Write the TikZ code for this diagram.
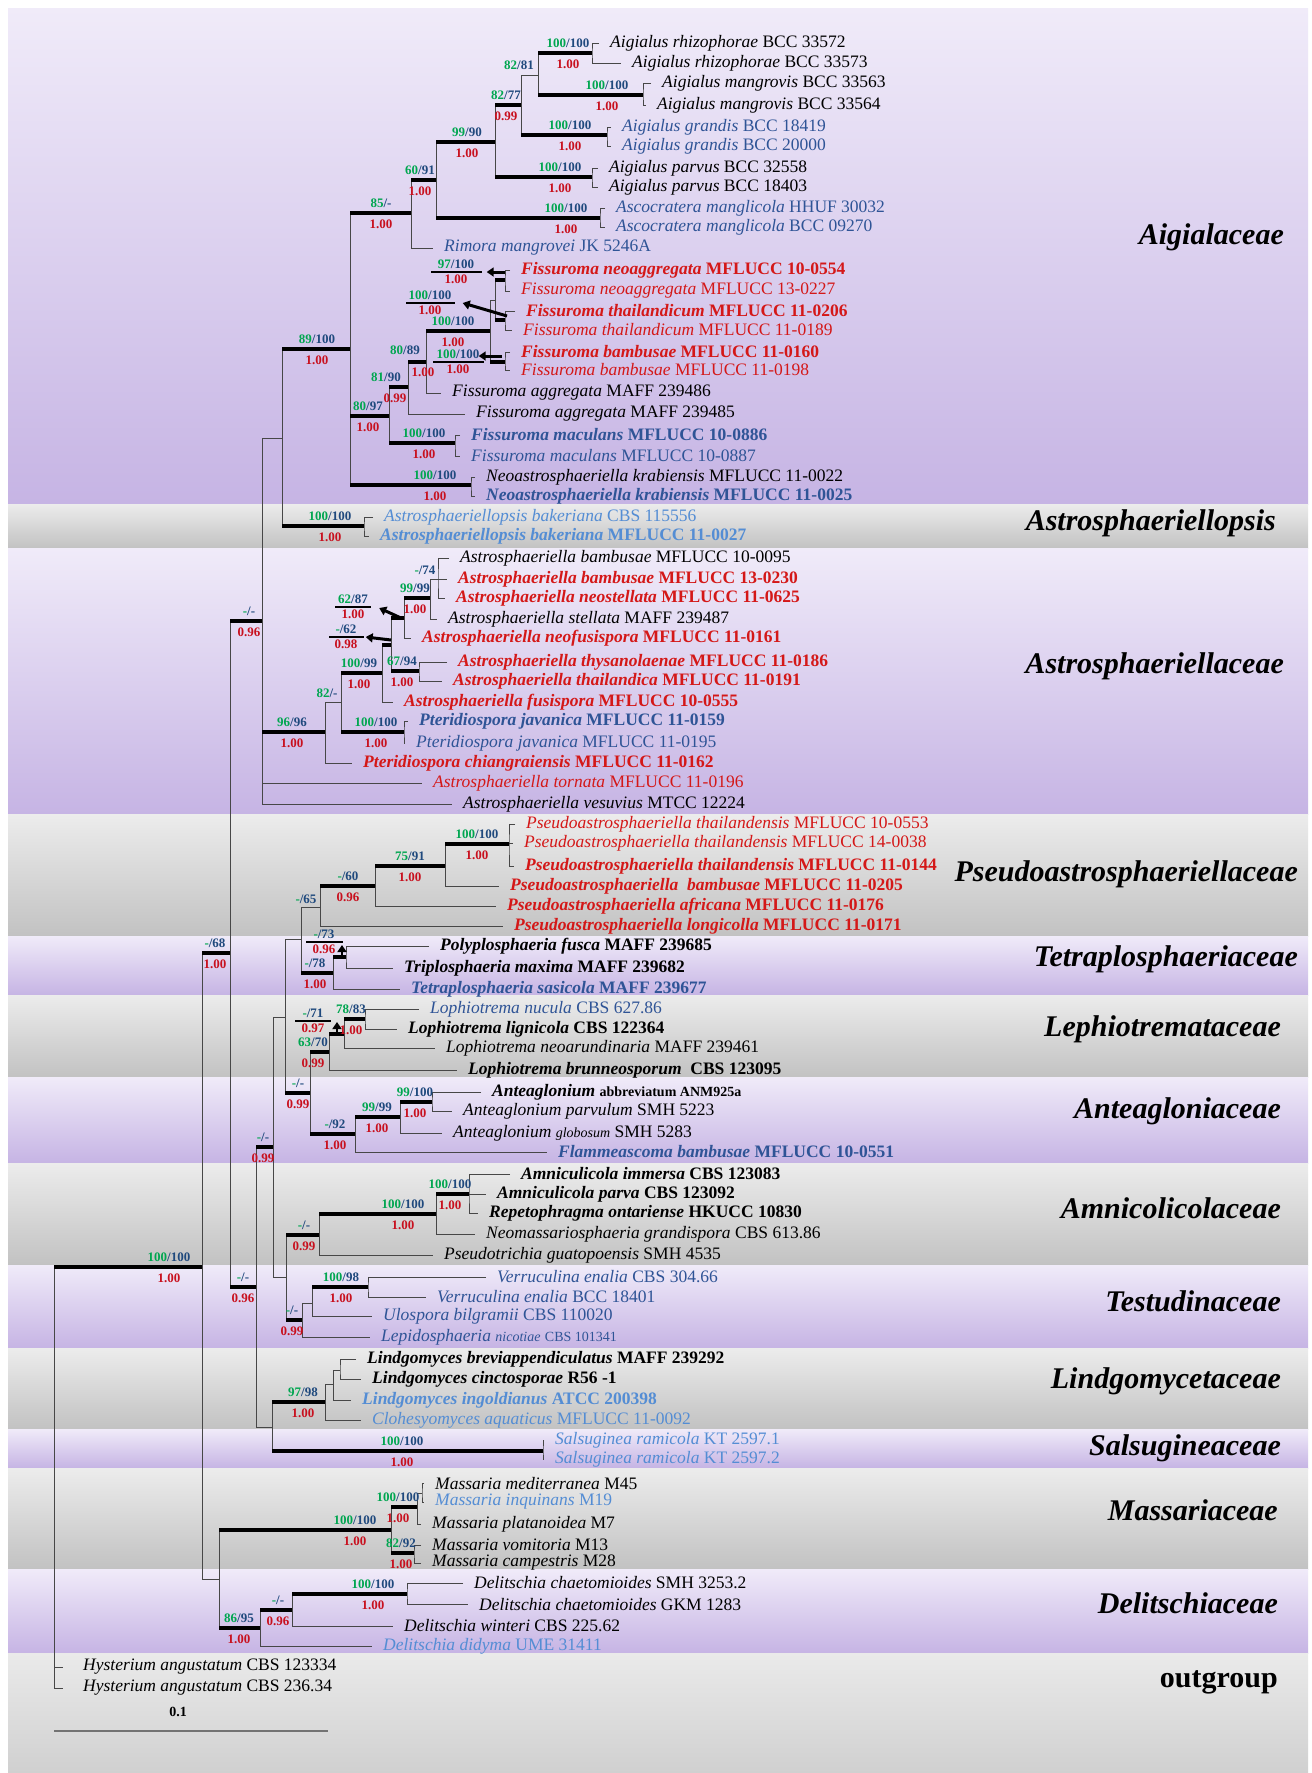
\documentclass[tikz,border=0pt]{standalone}
\usepackage{fontspec}
\setmainfont{Liberation Serif}
\usetikzlibrary{arrows.meta,positioning}
\definecolor{mlgreen}{RGB}{0,166,80}
\definecolor{mpblue}{RGB}{31,73,125}
\definecolor{ppred}{RGB}{200,16,30}
\definecolor{txred}{RGB}{212,24,24}
\definecolor{txblue}{RGB}{47,84,150}
\definecolor{txlblue}{RGB}{84,141,212}
\definecolor{bandpa}{RGB}{240,235,249}
\definecolor{bandpb}{RGB}{198,180,228}
\definecolor{bandga}{RGB}{236,236,236}
\definecolor{bandgb}{RGB}{194,194,194}
\definecolor{bandoa}{RGB}{234,234,234}
\definecolor{bandob}{RGB}{208,208,208}
\newcommand{\taxon}[2]{\textit{#1} #2}
\newcommand{\taxonb}[2]{\textbf{\textit{#1} #2}}
\newcommand{\suplab}[6]{%
  \node[sv] (#1u) at (#2,#3-10) {\textcolor{mlgreen}{#4}\textcolor{mpblue}{/#5}};
  \node[pv] (#1d) at (#2,#3+11) {#6};}

\begin{document}
\begin{tikzpicture}[x=1pt,y=-1pt,
  br/.style={draw=black!72,line width=0.9pt},
  bb/.style={draw=black,line width=4.6pt},
  tipl/.style={shorten <=11pt,shorten >=11pt},
  tipe/.style={shorten >=11pt},
  tx/.style={anchor=west,inner xsep=0pt,inner ysep=1pt,font=\fontsize{17.5}{19}\selectfont},
  sv/.style={inner sep=0pt,font=\fontsize{13}{14}\selectfont\bfseries},
  pv/.style={inner sep=0pt,text=ppred,font=\fontsize{13}{14}\selectfont\bfseries},
  fam/.style={anchor=east,inner sep=0pt,font=\fontsize{30}{32}\selectfont\bfseries\itshape},
  cbar/.style={fill=black,inner sep=0pt,minimum height=1.4pt},
  arr/.style={draw=black,line width=3pt,-{Triangle[length=7pt,width=9pt]}}]
\useasboundingbox (0,0) rectangle (1312,1773);
\fill[white] (0,0) rectangle (1312,1773);
% family bands
\shade[top color=bandpa,bottom color=bandpb] (8,8) rectangle (1308,504);
\shade[top color=bandga,bottom color=bandgb] (8,504) rectangle (1308,548);
\shade[top color=bandpa,bottom color=bandpb] (8,548) rectangle (1308,814);
\shade[top color=bandga,bottom color=bandgb] (8,814) rectangle (1308,936);
\shade[top color=bandpa,bottom color=bandpb] (8,936) rectangle (1308,995);
\shade[top color=bandga,bottom color=bandgb] (8,995) rectangle (1308,1077);
\shade[top color=bandpa,bottom color=bandpb] (8,1077) rectangle (1308,1163);
\shade[top color=bandga,bottom color=bandgb] (8,1163) rectangle (1308,1265);
\shade[top color=bandpa,bottom color=bandpb] (8,1265) rectangle (1308,1348);
\shade[top color=bandga,bottom color=bandgb] (8,1348) rectangle (1308,1429);
\shade[top color=bandpa,bottom color=bandpb] (8,1429) rectangle (1308,1468);
\shade[top color=bandga,bottom color=bandgb] (8,1468) rectangle (1308,1569);
\shade[top color=bandpa,bottom color=bandpb] (8,1569) rectangle (1308,1653);
\shade[top color=bandoa,bottom color=bandob] (8,1653) rectangle (1308,1773);

% internal nodes
\coordinate (root) at (54,1478);
\coordinate (ing) at (202,1267);
\coordinate (nMD) at (219,1579);
\coordinate (nMas) at (391,1530);
\coordinate (nMas1) at (417,1507);
\coordinate (nMas0) at (422,1493);
\coordinate (nMas2) at (414,1553);
\coordinate (nDel) at (260,1628);
\coordinate (nDel2) at (292,1610);
\coordinate (nDel3) at (407,1594);
\coordinate (n68) at (230,953);
\coordinate (n096) at (262,621);
\coordinate (nAA) at (282,438);
\coordinate (nAps) at (364,526);
\coordinate (nAig) at (350,349);
\coordinate (nNeo) at (471,485);
\coordinate (n85) at (411,213);
\coordinate (n6091) at (436,180);
\coordinate (nAsc) at (600,218);
\coordinate (n9990) at (495,142);
\coordinate (nPar) at (592,177);
\coordinate (n8277) at (521,105);
\coordinate (nGra) at (607,135);
\coordinate (n8281) at (538,75);
\coordinate (nRhi) at (592,53);
\coordinate (nMan) at (643,95);
\coordinate (n8097) at (389,416);
\coordinate (nMac) at (455,443);
\coordinate (n8190) at (408,387);
\coordinate (n8089) at (426,362);
\coordinate (nFis) at (490,331);
\coordinate (nFG) at (495,300);
\coordinate (nNag) at (505,280);
\coordinate (nTha) at (505,320);
\coordinate (nBam) at (505,362);
\coordinate (n9696) at (325,732);
\coordinate (n82) at (341,702);
\coordinate (nJav) at (404,732);
\coordinate (n10099) at (382,673);
\coordinate (n62) at (391,645);
\coordinate (n6794) at (419,671);
\coordinate (n6287) at (404,618);
\coordinate (n9999) at (430,598);
\coordinate (n74) at (438,579);
\coordinate (n096b) at (256,1287);
\coordinate (n99b) at (273,1147);
\coordinate (n285) at (285,1017);
\coordinate (n65) at (301,939);
\coordinate (nPs) at (320,907);
\coordinate (n60) at (375,886);
\coordinate (n7591) at (445,866);
\coordinate (nPth) at (509,844);
\coordinate (nTe) at (333,973);
\coordinate (nT73) at (346,957);
\coordinate (nLA) at (310,1093);
\coordinate (n6370) at (329,1052);
\coordinate (n71) at (344,1034);
\coordinate (n7883) at (365,1019);
\coordinate (n92) at (355,1134);
\coordinate (n9999b) at (400,1117);
\coordinate (n99100) at (432,1102);
\coordinate (n286) at (286,1277);
\coordinate (nAm) at (319,1235);
\coordinate (nAm2) at (436,1214);
\coordinate (nAm3) at (469,1194);
\coordinate (nTs) at (302,1320);
\coordinate (nTs2) at (312,1303);
\coordinate (nVer) at (368,1287);
\coordinate (n272) at (272,1427);
\coordinate (nLi) at (325,1402);
\coordinate (nLi2) at (333,1384);
\coordinate (nLi3) at (340,1370);
\coordinate (nSa) at (543,1451);

% taxa
\node[tx] (t1) at (610,43) {\taxon{Aigialus rhizophorae}{BCC 33572}};
\node[tx] (t2) at (632,63) {\taxon{Aigialus rhizophorae}{BCC 33573}};
\node[tx] (t3) at (662,83) {\taxon{Aigialus mangrovis}{BCC 33563}};
\node[tx] (t4) at (657,105) {\taxon{Aigialus mangrovis}{BCC 33564}};
\node[tx,text=txblue] (t5) at (622,127) {\taxon{Aigialus grandis}{BCC 18419}};
\node[tx,text=txblue] (t6) at (622,146) {\taxon{Aigialus grandis}{BCC 20000}};
\node[tx] (t7) at (609,168) {\taxon{Aigialus parvus}{BCC 32558}};
\node[tx] (t8) at (609,187) {\taxon{Aigialus parvus}{BCC 18403}};
\node[tx,text=txblue] (t9) at (616,208) {\taxon{Ascocratera manglicola}{HHUF 30032}};
\node[tx,text=txblue] (t10) at (616,227) {\taxon{Ascocratera manglicola}{BCC 09270}};
\node[tx,text=txblue] (t11) at (444,248) {\taxon{Rimora mangrovei}{JK 5246A}};
\node[tx,text=txred] (t12) at (521,270) {\taxonb{Fissuroma neoaggregata}{MFLUCC 10-0554}};
\node[tx,text=txred] (t13) at (521,291) {\taxon{Fissuroma neoaggregata}{MFLUCC 13-0227}};
\node[tx,text=txred] (t14) at (526,311) {\taxonb{Fissuroma thailandicum}{MFLUCC 11-0206}};
\node[tx,text=txred] (t15) at (523,330) {\taxon{Fissuroma thailandicum}{MFLUCC 11-0189}};
\node[tx,text=txred] (t16) at (521,352) {\taxonb{Fissuroma bambusae}{MFLUCC 11-0160}};
\node[tx,text=txred] (t17) at (521,370) {\taxon{Fissuroma bambusae}{MFLUCC 11-0198}};
\node[tx] (t18) at (452,393) {\taxon{Fissuroma aggregata}{MAFF 239486}};
\node[tx] (t19) at (476,414) {\taxon{Fissuroma aggregata}{MAFF 239485}};
\node[tx,text=txblue] (t20) at (471,435) {\taxonb{Fissuroma maculans}{MFLUCC 10-0886}};
\node[tx,text=txblue] (t21) at (471,456) {\taxon{Fissuroma maculans}{MFLUCC 10-0887}};
\node[tx] (t22) at (486,477) {\taxon{Neoastrosphaeriella krabiensis}{MFLUCC 11-0022}};
\node[tx,text=txblue] (t23) at (486,496) {\taxonb{Neoastrosphaeriella krabiensis}{MFLUCC 11-0025}};
\node[tx,text=txlblue] (t24) at (384,517) {\taxon{Astrosphaeriellopsis bakeriana}{CBS 115556}};
\node[tx,text=txlblue] (t25) at (380,536) {\taxonb{Astrosphaeriellopsis bakeriana}{MFLUCC 11-0027}};
\node[tx] (t26) at (460,558) {\taxon{Astrosphaeriella bambusae}{MFLUCC 10-0095}};
\node[tx,text=txred] (t27) at (458,579) {\taxonb{Astrosphaeriella bambusae}{MFLUCC 13-0230}};
\node[tx,text=txred] (t28) at (456,598) {\taxonb{Astrosphaeriella neostellata}{MFLUCC 11-0625}};
\node[tx] (t29) at (448,619) {\taxon{Astrosphaeriella stellata}{MAFF 239487}};
\node[tx,text=txred] (t30) at (422,638) {\taxonb{Astrosphaeriella neofusispora}{MFLUCC 11-0161}};
\node[tx,text=txred] (t31) at (458,662) {\taxonb{Astrosphaeriella thysanolaenae}{MFLUCC 11-0186}};
\node[tx,text=txred] (t32) at (453,681) {\taxonb{Astrosphaeriella thailandica}{MFLUCC 11-0191}};
\node[tx,text=txred] (t33) at (404,702) {\taxonb{Astrosphaeriella fusispora}{MFLUCC 10-0555}};
\node[tx,text=txblue] (t34) at (419,721) {\taxonb{Pteridiospora javanica}{MFLUCC 11-0159}};
\node[tx,text=txblue] (t35) at (416,743) {\taxon{Pteridiospora javanica}{MFLUCC 11-0195}};
\node[tx,text=txred] (t36) at (363,763) {\taxonb{Pteridiospora chiangraiensis}{MFLUCC 11-0162}};
\node[tx,text=txred] (t37) at (433,783) {\taxon{Astrosphaeriella tornata}{MFLUCC 11-0196}};
\node[tx] (t38) at (463,804) {\taxon{Astrosphaeriella vesuvius}{MTCC 12224}};
\node[tx,text=txred] (t39) at (526,824) {\taxon{Pseudoastrosphaeriella thailandensis}{MFLUCC 10-0553}};
\node[tx,text=txred] (t40) at (524,843) {\taxon{Pseudoastrosphaeriella thailandensis}{MFLUCC 14-0038}};
\node[tx,text=txred] (t41) at (525,866) {\taxonb{Pseudoastrosphaeriella thailandensis}{MFLUCC 11-0144}};
\node[tx,text=txred] (t42) at (510,886) {\taxonb{Pseudoastrosphaeriella\ \ bambusae}{MFLUCC 11-0205}};
\node[tx,text=txred] (t43) at (507,906) {\taxonb{Pseudoastrosphaeriella africana}{MFLUCC 11-0176}};
\node[tx,text=txred] (t44) at (514,926) {\taxonb{Pseudoastrosphaeriella longicolla}{MFLUCC 11-0171}};
\node[tx] (t45) at (440,946) {\taxonb{Polyplosphaeria fusca}{MAFF 239685}};
\node[tx] (t46) at (404,968) {\taxonb{Triplosphaeria maxima}{MAFF 239682}};
\node[tx,text=txblue] (t47) at (411,989) {\taxonb{Tetraplosphaeria sasicola}{MAFF 239677}};
\node[tx,text=txblue] (t48) at (430,1009) {\taxon{Lophiotrema nucula}{CBS 627.86}};
\node[tx] (t49) at (408,1029) {\taxonb{Lophiotrema lignicola}{CBS 122364}};
\node[tx] (t50) at (446,1048) {\taxon{Lophiotrema neoarundinaria}{MAFF 239461}};
\node[tx] (t51) at (468,1070) {\taxonb{Lophiotrema brunneosporum\ }{CBS 123095}};
\node[tx] (t52) at (492,1092) {\textbf{\textit{Anteaglonium}} {\fontsize{14}{15}\selectfont\bfseries abbreviatum ANM925a}};
\node[tx] (t53) at (463,1111) {\taxon{Anteaglonium parvulum}{SMH 5223}};
\node[tx] (t54) at (453,1133) {\textit{Anteaglonium} {\fontsize{14}{15}\selectfont\itshape globosum} SMH 5283};
\node[tx,text=txblue] (t55) at (558,1152) {\taxonb{Flammeascoma bambusae}{MFLUCC 10-0551}};
\node[tx] (t56) at (521,1174) {\taxonb{Amniculicola immersa}{CBS 123083}};
\node[tx] (t57) at (497,1194) {\taxonb{Amniculicola parva}{CBS 123092}};
\node[tx] (t58) at (489,1213) {\taxonb{Repetophragma ontariense}{HKUCC 10830}};
\node[tx] (t59) at (486,1234) {\taxon{Neomassariosphaeria grandispora}{CBS 613.86}};
\node[tx] (t60) at (444,1255) {\taxon{Pseudotrichia guatopoensis}{SMH 4535}};
\node[tx,text=txblue] (t61) at (497,1277) {\taxon{Verruculina enalia}{CBS 304.66}};
\node[tx,text=txblue] (t62) at (437,1297) {\taxon{Verruculina enalia}{BCC 18401}};
\node[tx,text=txblue] (t63) at (383,1316) {\taxon{Ulospora bilgramii}{CBS 110020}};
\node[tx,text=txblue] (t64) at (381,1337) {\textit{Lepidosphaeria} {\fontsize{14}{15}\selectfont\itshape nicotiae} {\fontsize{14}{15}\selectfont CBS 101341}};
\node[tx] (t65) at (367,1359) {\taxonb{Lindgomyces breviappendiculatus}{MAFF 239292}};
\node[tx] (t66) at (372,1379) {\taxonb{Lindgomyces cinctosporae}{R56 -1}};
\node[tx,text=txlblue] (t67) at (362,1400) {\taxonb{Lindgomyces ingoldianus}{ATCC 200398}};
\node[tx,text=txlblue] (t68) at (372,1420) {\taxon{Clohesyomyces aquaticus}{MFLUCC 11-0092}};
\node[tx,text=txlblue] (t69) at (555,1440) {\taxon{Salsuginea ramicola}{KT 2597.1}};
\node[tx,text=txlblue] (t70) at (555,1459) {\taxon{Salsuginea ramicola}{KT 2597.2}};
\node[tx] (t71) at (435,1483) {\taxon{Massaria mediterranea}{M45}};
\node[tx,text=txlblue] (t72) at (435,1502) {\taxon{Massaria inquinans}{M19}};
\node[tx] (t73) at (432,1524) {\taxon{Massaria platanoidea}{M7}};
\node[tx] (t74) at (432,1545) {\taxon{Massaria vomitoria}{M13}};
\node[tx] (t75) at (432,1563) {\taxon{Massaria campestris}{M28}};
\node[tx] (t76) at (474,1583) {\taxon{Delitschia chaetomioides}{SMH 3253.2}};
\node[tx] (t77) at (479,1604) {\taxon{Delitschia chaetomioides}{GKM 1283}};
\node[tx] (t78) at (404,1626) {\taxon{Delitschia winteri}{CBS 225.62}};
\node[tx,text=txlblue] (t79) at (383,1646) {\taxon{Delitschia didyma}{UME 31411}};
\node[tx] (t80) at (83,1667) {\taxon{Hysterium angustatum}{CBS 123334}};
\node[tx] (t81) at (83,1688) {\taxon{Hysterium angustatum}{CBS 236.34}};

% branches
\draw[br] (root |- ing) -- (root |- t81.west);
\draw[bb] (root |- ing) -- (ing);
\draw[br,shorten >=20pt] (root |- t80.west) -- (t80.west);
\draw[br,shorten >=20pt] (root |- t81.west) -- (t81.west);
\draw[br] (ing |- n68) -- (ing |- nMD);
\draw[bb] (ing |- n68) -- (n68);
\draw[br] (ing |- nMD) -- (nMD);
\draw[br] (nMD |- nMas) -- (nMD |- nDel);
\draw[bb] (nMD |- nMas) -- (nMas);
\draw[bb] (nMD |- nDel) -- (nDel);
\draw[br] (nMas |- nMas1) -- (nMas |- nMas2);
\draw[bb] (nMas |- nMas1) -- (nMas1);
\draw[bb] (nMas |- nMas2) -- (nMas2);
\draw[br,tipe] (nMas1 |- nMas0) |- (t73.west);
\draw[br] (nMas1 |- nMas0) -- (nMas0);
\draw[br,tipl] (t71.west) -| (nMas0) |- (t72.west);
\draw[br,tipl] (t74.west) -| (nMas2) |- (t75.west);
\draw[br,tipe] (nDel |- nDel2) |- (t79.west);
\draw[bb] (nDel |- nDel2) -- (nDel2);
\draw[br,tipe] (nDel2 |- nDel3) |- (t78.west);
\draw[bb] (nDel2 |- nDel3) -- (nDel3);
\draw[br,tipl] (t76.west) -| (nDel3) |- (t77.west);
\draw[br] (n68 |- n096) -- (n68 |- n096b);
\draw[bb] (n68 |- n096) -- (n096);
\draw[bb] (n68 |- n096b) -- (n096b);
\draw[br,tipe] (n096 |- nAA) |- (t38.west);
\draw[br] (n096 |- nAA) -- (nAA);
\draw[bb] (n096 |- n9696) -- (n9696);
\draw[br,tipe] (n096 |- t37.west) -- (t37.west);
\draw[br] (nAA |- nAig) -- (nAA |- nAps);
\draw[bb] (nAA |- nAig) -- (nAig);
\draw[bb] (nAA |- nAps) -- (nAps);
\draw[br,tipl] (t24.west) -| (nAps) |- (t25.west);
\draw[br] (nAig |- n85) -- (nAig |- nNeo);
\draw[bb] (nAig |- n85) -- (n85);
\draw[bb] (nAig |- n8097) -- (n8097);
\draw[bb] (nAig |- nNeo) -- (nNeo);
\draw[br,tipl] (t22.west) -| (nNeo) |- (t23.west);
\draw[br,tipe] (n85 |- n6091) |- (t11.west);
\draw[bb] (n85 |- n6091) -- (n6091);
\draw[br] (n6091 |- n9990) -- (n6091 |- nAsc);
\draw[bb] (n6091 |- n9990) -- (n9990);
\draw[bb] (n6091 |- nAsc) -- (nAsc);
\draw[br,tipl] (t9.west) -| (nAsc) |- (t10.west);
\draw[br] (n9990 |- n8277) -- (n9990 |- nPar);
\draw[bb] (n9990 |- n8277) -- (n8277);
\draw[bb] (n9990 |- nPar) -- (nPar);
\draw[br,tipl] (t7.west) -| (nPar) |- (t8.west);
\draw[br] (n8277 |- n8281) -- (n8277 |- nGra);
\draw[br] (n8277 |- n8281) -- (n8281);
\draw[bb] (n8277 |- nGra) -- (nGra);
\draw[br,tipl] (t5.west) -| (nGra) |- (t6.west);
\draw[br] (n8281 |- nRhi) -- (n8281 |- nMan);
\draw[bb] (n8281 |- nRhi) -- (nRhi);
\draw[bb] (n8281 |- nMan) -- (nMan);
\draw[br,tipl] (t1.west) -| (nRhi) |- (t2.west);
\draw[br,tipl] (t3.west) -| (nMan) |- (t4.west);
\draw[br] (n8097 |- n8190) -- (n8097 |- nMac);
\draw[bb] (n8097 |- n8190) -- (n8190);
\draw[bb] (n8097 |- nMac) -- (nMac);
\draw[br,tipl] (t20.west) -| (nMac) |- (t21.west);
\draw[br,tipe] (n8190 |- n8089) |- (t19.west);
\draw[bb] (n8190 |- n8089) -- (n8089);
\draw[br,tipe] (n8089 |- nFis) |- (t18.west);
\draw[bb] (n8089 |- nFis) -- (nFis);
\draw[br] (nFis |- nFG) -- (nFis |- nBam);
\draw[br] (nFis |- nFG) -- (nFG);
\draw[bb] (nFis |- nBam) -- (nBam);
\draw[br] (nFG |- nNag) -- (nFG |- nTha);
\draw[bb] (nFG |- nNag) -- (nNag);
\draw[bb] (nFG |- nTha) -- (nTha);
\draw[br,tipl] (t12.west) -| (nNag) |- (t13.west);
\draw[br,tipl] (t14.west) -| (nTha) |- (t15.west);
\draw[br,tipl] (t16.west) -| (nBam) |- (t17.west);
\draw[br,tipe] (n9696 |- n82) |- (t36.west);
\draw[br] (n9696 |- n82) -- (n82);
\draw[br] (n82 |- n10099) -- (n82 |- nJav);
\draw[bb] (n82 |- n10099) -- (n10099);
\draw[bb] (n82 |- nJav) -- (nJav);
\draw[br,tipl] (t34.west) -| (nJav) |- (t35.west);
\draw[br,tipe] (n10099 |- n62) |- (t33.west);
\draw[bb] (n10099 |- n62) -- (n62);
\draw[br] (n62 |- n6287) -- (n62 |- n6794);
\draw[bb] (n62 |- n6287) -- (n6287);
\draw[bb] (n62 |- n6794) -- (n6794);
\draw[br,tipl] (t31.west) -| (n6794) |- (t32.west);
\draw[br,tipe] (n6287 |- n9999) |- (t30.west);
\draw[bb] (n6287 |- n9999) -- (n9999);
\draw[br,tipe] (n9999 |- n74) |- (t29.west);
\draw[br] (n9999 |- n74) -- (n74);
\draw[br,tipl] (t26.west) -| (n74) |- (t28.west);
\draw[br,tipe] (n74 |- t27.west) -- (t27.west);
\draw[br] (n096b |- n99b) -- (n096b |- n272);
\draw[bb] (n096b |- n99b) -- (n99b);
\draw[br] (n096b |- n272) -- (n272);
\draw[br] (n99b |- n285) -- (n99b |- n286);
\draw[br] (n99b |- n285) -- (n285);
\draw[br] (n99b |- n286) -- (n286);
\draw[br] (n285 |- n65) -- (n285 |- nLA);
\draw[br] (n285 |- n65) -- (n65);
\draw[bb] (n285 |- nLA) -- (nLA);
\draw[br] (n65 |- nPs) -- (n65 |- nTe);
\draw[br] (n65 |- nPs) -- (nPs);
\draw[bb] (n65 |- nTe) -- (nTe);
\draw[br,tipe] (nPs |- n60) |- (t44.west);
\draw[bb] (nPs |- n60) -- (n60);
\draw[br,tipe] (n60 |- n7591) |- (t43.west);
\draw[bb] (n60 |- n7591) -- (n7591);
\draw[br,tipe] (n7591 |- nPth) |- (t42.west);
\draw[bb] (n7591 |- nPth) -- (nPth);
\draw[br,tipl] (t39.west) -| (nPth) |- (t41.west);
\draw[br,tipe] (nPth |- t40.west) -- (t40.west);
\draw[br,tipe] (nTe |- nT73) |- (t47.west);
\draw[bb] (nTe |- nT73) -- (nT73);
\draw[br,tipl] (t45.west) -| (nT73) |- (t46.west);
\draw[br] (nLA |- n6370) -- (nLA |- n92);
\draw[bb] (nLA |- n6370) -- (n6370);
\draw[bb] (nLA |- n92) -- (n92);
\draw[br,tipe] (n6370 |- n71) |- (t51.west);
\draw[bb] (n6370 |- n71) -- (n71);
\draw[br,tipe] (n71 |- n7883) |- (t50.west);
\draw[bb] (n71 |- n7883) -- (n7883);
\draw[br,tipl] (t48.west) -| (n7883) |- (t49.west);
\draw[br,tipe] (n92 |- n9999b) |- (t55.west);
\draw[bb] (n92 |- n9999b) -- (n9999b);
\draw[br,tipe] (n9999b |- n99100) |- (t54.west);
\draw[bb] (n9999b |- n99100) -- (n99100);
\draw[br,tipl] (t52.west) -| (n99100) |- (t53.west);
\draw[br] (n286 |- nAm) -- (n286 |- nTs);
\draw[bb] (n286 |- nAm) -- (nAm);
\draw[bb] (n286 |- nTs) -- (nTs);
\draw[br,tipe] (nAm |- nAm2) |- (t60.west);
\draw[bb] (nAm |- nAm2) -- (nAm2);
\draw[br,tipe] (nAm2 |- nAm3) |- (t59.west);
\draw[bb] (nAm2 |- nAm3) -- (nAm3);
\draw[br,tipl] (t56.west) -| (nAm3) |- (t58.west);
\draw[br,tipe] (nAm3 |- t57.west) -- (t57.west);
\draw[br,tipe] (nTs |- nTs2) |- (t64.west);
\draw[br] (nTs |- nTs2) -- (nTs2);
\draw[br,tipe] (nTs2 |- nVer) |- (t63.west);
\draw[bb] (nTs2 |- nVer) -- (nVer);
\draw[br,tipl] (t61.west) -| (nVer) |- (t62.west);
\draw[br] (n272 |- nLi) -- (n272 |- nSa);
\draw[bb] (n272 |- nLi) -- (nLi);
\draw[bb] (n272 |- nSa) -- (nSa);
\draw[br,tipl] (t69.west) -| (nSa) |- (t70.west);
\draw[br,tipe] (nLi |- nLi2) |- (t68.west);
\draw[br] (nLi |- nLi2) -- (nLi2);
\draw[br,tipe] (nLi2 |- nLi3) |- (t67.west);
\draw[br] (nLi2 |- nLi3) -- (nLi3);
\draw[br,tipl] (t65.west) -| (nLi3) |- (t66.west);

% support values
\suplab{sRhi}{568}{53}{100}{100}{1.00}
\node[sv] (s8281) at (519,65) {\textcolor{mlgreen}{82}\textcolor{mpblue}{/81}};
\suplab{sMan}{607}{95}{100}{100}{1.00}
\suplab{s8277}{506}{105}{82}{77}{0.99}
\suplab{sGra}{570}{135}{100}{100}{1.00}
\suplab{s9990}{467}{142}{99}{90}{1.00}
\suplab{sPar}{560}{177}{100}{100}{1.00}
\suplab{s6091}{420}{180}{60}{91}{1.00}
\suplab{sAsc}{566}{218}{100}{100}{1.00}
\suplab{s85}{381}{213}{85}{-}{1.00}
\suplab{sAig}{317}{349}{89}{100}{1.00}
\suplab{sNeo}{435}{485}{100}{100}{1.00}
\suplab{s8097}{368}{416}{80}{97}{1.00}
\suplab{sMac}{424}{443}{100}{100}{1.00}
\node[sv] (s8190u) at (386,377) {\textcolor{mlgreen}{81}\textcolor{mpblue}{/90}};
\node[pv] (s8190d) at (395,398) {0.99};
\node[sv] (s8089u) at (405,350) {\textcolor{mlgreen}{80}\textcolor{mpblue}{/89}};
\node[pv] (s8089d) at (423,372) {1.00};
\suplab{sFis}{453}{331}{100}{100}{1.00}
\suplab{sAps}{330}{526}{100}{100}{1.00}
\suplab{s096}{249}{621}{-}{-}{0.96}
\node[sv] (s74) at (425,570) {\textcolor{mlgreen}{-}\textcolor{mpblue}{/74}};
\suplab{s9999}{415}{598}{99}{99}{1.00}
\suplab{s6794}{402}{671}{67}{94}{1.00}
\suplab{s10099}{359}{673}{100}{99}{1.00}
\suplab{sJav}{376}{732}{100}{100}{1.00}
\node[sv] (s82) at (327,693) {\textcolor{mlgreen}{82}\textcolor{mpblue}{/-}};
\suplab{s9696}{292}{732}{96}{96}{1.00}
\suplab{sPth}{477}{844}{100}{100}{1.00}
\suplab{s7591}{410}{866}{75}{91}{1.00}
\suplab{s60}{348}{886}{-}{60}{0.96}
\node[sv] (s65) at (306,899) {\textcolor{mlgreen}{-}\textcolor{mpblue}{/65}};
\suplab{sTe}{315}{973}{-}{78}{1.00}
\suplab{s7883}{351}{1019}{78}{83}{1.00}
\suplab{s6370}{313}{1052}{63}{70}{0.99}
\suplab{sLA}{298}{1093}{-}{-}{0.99}
\suplab{s92}{335}{1134}{-}{92}{1.00}
\suplab{s9999b}{377}{1117}{99}{99}{1.00}
\suplab{s99100}{415}{1102}{99}{100}{1.00}
\suplab{s99b}{263}{1147}{-}{-}{0.99}
\suplab{s68}{215}{953}{-}{68}{1.00}
\suplab{sAm}{304}{1235}{-}{-}{0.99}
\suplab{sAm2}{403}{1214}{100}{100}{1.00}
\suplab{sAm3}{450}{1194}{100}{100}{1.00}
\suplab{sIng}{169}{1267}{100}{100}{1.00}
\suplab{s096b}{243}{1287}{-}{-}{0.96}
\suplab{sVer}{341}{1287}{100}{98}{1.00}
\suplab{sTs}{292}{1320}{-}{-}{0.99}
\suplab{sLi}{303}{1402}{97}{98}{1.00}
\suplab{sSa}{402}{1451}{100}{100}{1.00}
\suplab{sMas1}{398}{1507}{100}{100}{1.00}
\suplab{sMas}{355}{1530}{100}{100}{1.00}
\suplab{sMas2}{401}{1553}{82}{92}{1.00}
\suplab{sDel3}{373}{1594}{100}{100}{1.00}
\suplab{sDel2}{278}{1610}{-}{-}{0.96}
\suplab{sDel}{239}{1628}{86}{95}{1.00}

% enlarged labels for short branches
\node[cbar,minimum width=51pt] (cNag) at (456,272) {};
\node[sv,above=2pt of cNag] (cNagu) {\textcolor{mlgreen}{97}\textcolor{mpblue}{/100}};
\node[pv,below=2pt of cNag] (cNagd) {1.00};
\draw[arr] ([yshift=8pt]nNag) -- ([xshift=5pt]cNag.east);
\node[cbar,minimum width=49pt] (cTha) at (430,303) {};
\node[sv,above=2pt of cTha] (cThau) {\textcolor{mlgreen}{100}\textcolor{mpblue}{/100}};
\node[pv,below=2pt of cTha] (cThad) {1.00};
\draw[arr] ([xshift=2pt,yshift=4pt]nTha) -- ([xshift=8pt]cTha.east);
\node[cbar,minimum width=51pt] (cBam) at (458,362) {};
\node[sv,above=2pt of cBam] (cBamu) {\textcolor{mlgreen}{100}\textcolor{mpblue}{/100}};
\node[pv,below=2pt of cBam] (cBamd) {1.00};
\draw[arr] ([xshift=-3pt,yshift=6pt]nBam) -- ([xshift=-5pt,yshift=6pt]cBam.east);
\node[cbar,minimum width=36pt] (c6287) at (353,607) {};
\node[sv,above=2pt of c6287] (c6287u) {\textcolor{mlgreen}{62}\textcolor{mpblue}{/87}};
\node[pv,below=2pt of c6287] (c6287d) {1.00};
\draw[arr] ([xshift=-3pt]n6287) -- ([xshift=8pt,yshift=-1pt]c6287.east);
\node[cbar,minimum width=35pt] (c62) at (346,637) {};
\node[sv,above=2pt of c62] (c62u) {\textcolor{mlgreen}{-}\textcolor{mpblue}{/62}};
\node[pv,below=2pt of c62] (c62d) {0.98};
\draw[arr] ([yshift=5pt]n62) -- ([xshift=2pt]c62.east);
\node[cbar,minimum width=37pt] (cT73) at (324,942) {};
\node[sv,above=2pt of cT73] (cT73u) {\textcolor{mlgreen}{-}\textcolor{mpblue}{/73}};
\node[pv,below=2pt of cT73] (cT73d) {0.96};
\draw[arr,line width=2.5pt] ([xshift=-4pt]nT73) -- ([xshift=-4pt,yshift=12pt]nT73);
\node[cbar,minimum width=36pt] (c71) at (313,1021) {};
\node[sv,above=2pt of c71] (c71u) {\textcolor{mlgreen}{-}\textcolor{mpblue}{/71}};
\node[pv,below=2pt of c71] (c71d) {0.97};
\draw[arr,line width=2.5pt] ([xshift=-7pt]n71) -- ([xshift=-7pt,yshift=12pt]n71);

% families
\node[fam] (fAig) at (1284,237) {Aigialaceae};
\node[fam] (fAps) at (1276,523) {Astrosphaeriellopsis};
\node[fam] (fAst) at (1284,666) {Astrosphaeriellaceae};
\node[fam] (fPse) at (1298,874) {Pseudoastrosphaeriellaceae};
\node[fam] (fTet) at (1298,959) {Tetraplosphaeriaceae};
\node[fam] (fLep) at (1281,1029) {Lephiotremataceae};
\node[fam] (fAnt) at (1281,1111) {Anteagloniaceae};
\node[fam] (fAmn) at (1281,1208) {Amnicolicolaceae};
\node[fam] (fTes) at (1281,1301) {Testudinaceae};
\node[fam] (fLin) at (1281,1381) {Lindgomycetaceae};
\node[fam] (fSal) at (1281,1448) {Salsugineaceae};
\node[fam] (fMas) at (1278,1510) {Massariaceae};
\node[fam] (fDel) at (1278,1603) {Delitschiaceae};
\node[fam,font=\fontsize{30}{32}\selectfont\bfseries] (fOut) at (1278,1682) {outgroup};

% scale bar
\coordinate (sb0) at (54,1731);
\coordinate (sb1) at (328,1731);
\draw[draw=black!55,line width=1.8pt] (sb0) -- (sb1);
\node[font=\fontsize{14}{15}\selectfont\bfseries] (sbl) at (178,1712) {0.1};
\end{tikzpicture}
\end{document}
